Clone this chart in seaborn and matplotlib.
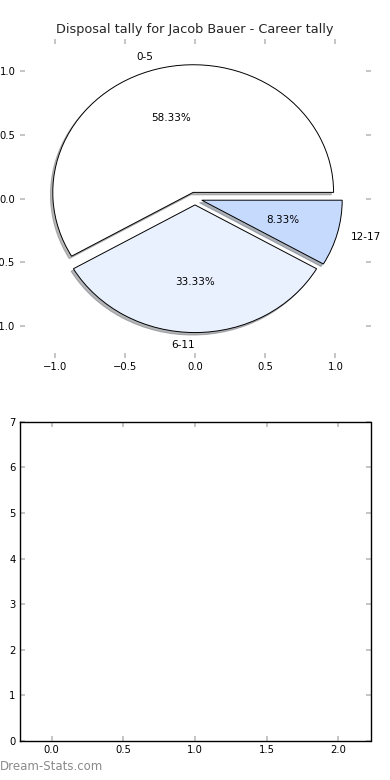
import matplotlib
matplotlib.use("Agg")
import matplotlib.pyplot as plt
import seaborn as sns
import pandas as pd

# Data
categories = ["0-5", "6-11", "12-17"]
tally = [7, 4, 1]
pie_colors = ["#FFFFFF", "#EAF1FE", "#C6DAFE"]
bar_positions = [0, 1, 2]
bar_values = [0, 0, 0]
title = "Disposal tally for Jacob Bauer - Career tally"
watermark = "Dream-Stats.com"

sns.set_theme(style="white")
plt.rcParams["font.family"] = ["DejaVu Sans"]

fig, (ax1, ax2) = plt.subplots(2, 1, figsize=(3.9, 7.8), dpi=100)
fig.subplots_adjust(left=0.05, right=0.95, bottom=0.05, top=0.95, hspace=0.2)

wedges, texts, autotexts = ax1.pie(
    tally, labels=categories, colors=pie_colors, explode=[0.05] * 3,
    autopct="%1.2f%%", shadow={"ox": -0.012, "oy": -0.014, "shade": 0.55},
    startangle=0,
    wedgeprops=dict(edgecolor="black", linewidth=0.7),
    textprops=dict(fontsize=7.5, color="black"), frame=False)
texts[1].set_ha("right")
ax1.set_aspect("auto")
ax1.set_xlim(-1.25, 1.25)
ax1.set_ylim(-1.25, 1.25)
ax1.set_xticks([-1.0, -0.5, 0.0, 0.5, 1.0])
ax1.set_yticks([-1.0, -0.5, 0.0, 0.5, 1.0])
ax1.set_title(title, fontsize=9.3, pad=4)

df = pd.DataFrame({"x": bar_positions, "y": bar_values})
sns.barplot(data=df, x="x", y="y", native_scale=True, ax=ax2, color="#C6DAFE", width=0.2)
ax2.set_xlim(-0.224, 2.224)
ax2.set_ylim(0, 7)
ax2.set_xticks([0.0, 0.5, 1.0, 1.5, 2.0])
ax2.set_xticklabels(["0.0", "0.5", "1.0", "1.5", "2.0"])
ax2.set_yticks(range(0, 8))
ax2.set_xlabel("")
ax2.set_ylabel("")
for s in ax2.spines.values():
    s.set_visible(True)
    s.set_color("black")
    s.set_linewidth(1.0)

for ax in (ax1, ax2):
    ax.tick_params(axis="both", which="both", direction="in", length=3.5, width=1.2,
                   color="#BBBBBB", labelsize=7.2, labelcolor="black",
                   top=True, right=True, bottom=True, left=True, pad=3)

fig.text(0.0, 0.0085, watermark, fontsize=8.5, color="#8A8A8A", ha="left", va="bottom")

fig.savefig("out.png", dpi=100, facecolor="white")
